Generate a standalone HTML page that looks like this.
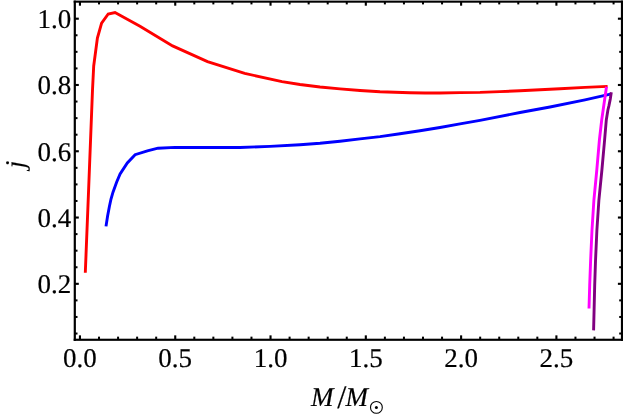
<!DOCTYPE html>
<html><head><meta charset="utf-8">
<style>
html,body{margin:0;padding:0;background:#fff;}
body{width:623px;height:418px;overflow:hidden;font-family:"Liberation Serif",serif;}
svg{display:block;will-change:transform;}
text{font-family:"Liberation Serif",serif;fill:#000;stroke:#000;stroke-width:0.18px;text-rendering:geometricPrecision;}
</style></head><body>
<svg width="623" height="418" viewBox="0 0 623 418">
<rect width="623" height="418" fill="#fff"/>
<g fill="none" stroke-width="2.9" stroke-linejoin="miter" stroke-linecap="butt">
<polyline stroke="#ff0000" points="85.3,272.8 88.6,190 92.5,90 93.7,66 97.4,38 101.6,23.2 108.2,14 115,12.6 140,26.3 172.6,45.9 207.5,61.6 244.7,73.4 282,81.6 300,84.5 320,87.0 340,88.85 360,90.45 380,91.7 410,92.7 425,92.95 440,92.95 460,92.65 480,92.35 500,91.6 520,90.8 540,89.8 560,88.7 585,87.35 607.6,86.4"/>
<polyline stroke="#0000ff" points="106.0,226.4 107.6,216 109.4,206.6 111,199 113,192.2 116.6,182.2 120.1,174 127.3,163 135.1,154.7 147.4,150.8 158,148.2 175,147.4 210,147.5 240,147.5 270,146.4 300,144.7 320,143.3 340,141.3 360,138.9 380,136.65 400,133.8 420,130.8 440,127.5 460,123.9 480,120.4 520,112.5 550,107.0 585,99.9 610.4,94.2"/>
<polyline stroke="#ff00ff" points="606.5,86.8 601.7,120 599.4,140 596.8,170 593.9,200 592.0,230 590.6,261 589.7,285 589.0,308.5"/>
<polyline stroke="#800080" points="611.3,92.3 610.3,99 608.9,105.9 607.9,110 606.3,120 604.6,140 601.9,170 598.9,200 596.9,230 595.5,261 594.7,285 593.6,330.4"/>
</g>
<g fill="#000">
<rect x="73.70" y="0.60" width="2.20" height="340.25"/>
<rect x="620.90" y="0.60" width="2.10" height="340.25"/>
<rect x="73.70" y="0.60" width="549.30" height="2.10"/>
<rect x="73.70" y="338.70" width="549.30" height="2.15"/>
<rect x="78.90" y="335.35" width="2.10" height="4.35"/>
<rect x="78.90" y="1.70" width="2.10" height="4.00"/>
<rect x="98.01" y="336.65" width="2.00" height="3.05"/>
<rect x="98.01" y="1.70" width="2.00" height="2.70"/>
<rect x="117.07" y="336.65" width="2.00" height="3.05"/>
<rect x="117.07" y="1.70" width="2.00" height="2.70"/>
<rect x="136.12" y="336.65" width="2.00" height="3.05"/>
<rect x="136.12" y="1.70" width="2.00" height="2.70"/>
<rect x="155.18" y="336.65" width="2.00" height="3.05"/>
<rect x="155.18" y="1.70" width="2.00" height="2.70"/>
<rect x="174.19" y="335.35" width="2.10" height="4.35"/>
<rect x="174.19" y="1.70" width="2.10" height="4.00"/>
<rect x="193.30" y="336.65" width="2.00" height="3.05"/>
<rect x="193.30" y="1.70" width="2.00" height="2.70"/>
<rect x="212.36" y="336.65" width="2.00" height="3.05"/>
<rect x="212.36" y="1.70" width="2.00" height="2.70"/>
<rect x="231.41" y="336.65" width="2.00" height="3.05"/>
<rect x="231.41" y="1.70" width="2.00" height="2.70"/>
<rect x="250.47" y="336.65" width="2.00" height="3.05"/>
<rect x="250.47" y="1.70" width="2.00" height="2.70"/>
<rect x="269.48" y="335.35" width="2.10" height="4.35"/>
<rect x="269.48" y="1.70" width="2.10" height="4.00"/>
<rect x="288.59" y="336.65" width="2.00" height="3.05"/>
<rect x="288.59" y="1.70" width="2.00" height="2.70"/>
<rect x="307.65" y="336.65" width="2.00" height="3.05"/>
<rect x="307.65" y="1.70" width="2.00" height="2.70"/>
<rect x="326.70" y="336.65" width="2.00" height="3.05"/>
<rect x="326.70" y="1.70" width="2.00" height="2.70"/>
<rect x="345.76" y="336.65" width="2.00" height="3.05"/>
<rect x="345.76" y="1.70" width="2.00" height="2.70"/>
<rect x="364.77" y="335.35" width="2.10" height="4.35"/>
<rect x="364.77" y="1.70" width="2.10" height="4.00"/>
<rect x="383.88" y="336.65" width="2.00" height="3.05"/>
<rect x="383.88" y="1.70" width="2.00" height="2.70"/>
<rect x="402.94" y="336.65" width="2.00" height="3.05"/>
<rect x="402.94" y="1.70" width="2.00" height="2.70"/>
<rect x="421.99" y="336.65" width="2.00" height="3.05"/>
<rect x="421.99" y="1.70" width="2.00" height="2.70"/>
<rect x="441.05" y="336.65" width="2.00" height="3.05"/>
<rect x="441.05" y="1.70" width="2.00" height="2.70"/>
<rect x="460.06" y="335.35" width="2.10" height="4.35"/>
<rect x="460.06" y="1.70" width="2.10" height="4.00"/>
<rect x="479.17" y="336.65" width="2.00" height="3.05"/>
<rect x="479.17" y="1.70" width="2.00" height="2.70"/>
<rect x="498.23" y="336.65" width="2.00" height="3.05"/>
<rect x="498.23" y="1.70" width="2.00" height="2.70"/>
<rect x="517.28" y="336.65" width="2.00" height="3.05"/>
<rect x="517.28" y="1.70" width="2.00" height="2.70"/>
<rect x="536.34" y="336.65" width="2.00" height="3.05"/>
<rect x="536.34" y="1.70" width="2.00" height="2.70"/>
<rect x="555.35" y="335.35" width="2.10" height="4.35"/>
<rect x="555.35" y="1.70" width="2.10" height="4.00"/>
<rect x="574.46" y="336.65" width="2.00" height="3.05"/>
<rect x="574.46" y="1.70" width="2.00" height="2.70"/>
<rect x="593.52" y="336.65" width="2.00" height="3.05"/>
<rect x="593.52" y="1.70" width="2.00" height="2.70"/>
<rect x="612.57" y="336.65" width="2.00" height="3.05"/>
<rect x="612.57" y="1.70" width="2.00" height="2.70"/>
<rect x="74.80" y="332.53" width="2.70" height="2.00"/>
<rect x="619.20" y="332.53" width="2.70" height="2.00"/>
<rect x="74.80" y="315.96" width="2.70" height="2.00"/>
<rect x="619.20" y="315.96" width="2.70" height="2.00"/>
<rect x="74.80" y="299.39" width="2.70" height="2.00"/>
<rect x="619.20" y="299.39" width="2.70" height="2.00"/>
<rect x="74.80" y="282.77" width="4.00" height="2.10"/>
<rect x="617.90" y="282.77" width="4.00" height="2.10"/>
<rect x="74.80" y="266.25" width="2.70" height="2.00"/>
<rect x="619.20" y="266.25" width="2.70" height="2.00"/>
<rect x="74.80" y="249.68" width="2.70" height="2.00"/>
<rect x="619.20" y="249.68" width="2.70" height="2.00"/>
<rect x="74.80" y="233.11" width="2.70" height="2.00"/>
<rect x="619.20" y="233.11" width="2.70" height="2.00"/>
<rect x="74.80" y="216.49" width="4.00" height="2.10"/>
<rect x="617.90" y="216.49" width="4.00" height="2.10"/>
<rect x="74.80" y="199.97" width="2.70" height="2.00"/>
<rect x="619.20" y="199.97" width="2.70" height="2.00"/>
<rect x="74.80" y="183.40" width="2.70" height="2.00"/>
<rect x="619.20" y="183.40" width="2.70" height="2.00"/>
<rect x="74.80" y="166.83" width="2.70" height="2.00"/>
<rect x="619.20" y="166.83" width="2.70" height="2.00"/>
<rect x="74.80" y="150.21" width="4.00" height="2.10"/>
<rect x="617.90" y="150.21" width="4.00" height="2.10"/>
<rect x="74.80" y="133.69" width="2.70" height="2.00"/>
<rect x="619.20" y="133.69" width="2.70" height="2.00"/>
<rect x="74.80" y="117.12" width="2.70" height="2.00"/>
<rect x="619.20" y="117.12" width="2.70" height="2.00"/>
<rect x="74.80" y="100.55" width="2.70" height="2.00"/>
<rect x="619.20" y="100.55" width="2.70" height="2.00"/>
<rect x="74.80" y="83.93" width="4.00" height="2.10"/>
<rect x="617.90" y="83.93" width="4.00" height="2.10"/>
<rect x="74.80" y="67.41" width="2.70" height="2.00"/>
<rect x="619.20" y="67.41" width="2.70" height="2.00"/>
<rect x="74.80" y="50.84" width="2.70" height="2.00"/>
<rect x="619.20" y="50.84" width="2.70" height="2.00"/>
<rect x="74.80" y="34.27" width="2.70" height="2.00"/>
<rect x="619.20" y="34.27" width="2.70" height="2.00"/>
<rect x="74.80" y="17.65" width="4.00" height="2.10"/>
<rect x="617.90" y="17.65" width="4.00" height="2.10"/>
</g>
<g font-size="27">
<text x="79.95" y="367.1" text-anchor="middle">0.0</text>
<text x="175.24" y="367.1" text-anchor="middle">0.5</text>
<text x="270.53" y="367.1" text-anchor="middle">1.0</text>
<text x="365.82" y="367.1" text-anchor="middle">1.5</text>
<text x="461.11" y="367.1" text-anchor="middle">2.0</text>
<text x="556.40" y="367.1" text-anchor="middle">2.5</text>
<text x="71.3" y="293.22" text-anchor="end">0.2</text>
<text x="71.3" y="226.94" text-anchor="end">0.4</text>
<text x="71.3" y="160.66" text-anchor="end">0.6</text>
<text x="71.3" y="94.38" text-anchor="end">0.8</text>
<text x="71.3" y="28.10" text-anchor="end">1.0</text>
</g>
<g font-size="27" font-style="italic">
<text x="311" y="405.5">M</text>
<text x="337.3" y="407.8" font-size="33" font-style="normal" stroke-width="0">/</text>
<text x="345.5" y="405.5">M</text>
<text transform="translate(24.2,168.3) rotate(-90)" x="0" y="0">j</text>
</g>
<circle cx="376.4" cy="407.4" r="5.9" fill="none" stroke="#000" stroke-width="1.1"/>
<circle cx="376.4" cy="407.4" r="1.5" fill="#000"/>
</svg>
</body></html>
